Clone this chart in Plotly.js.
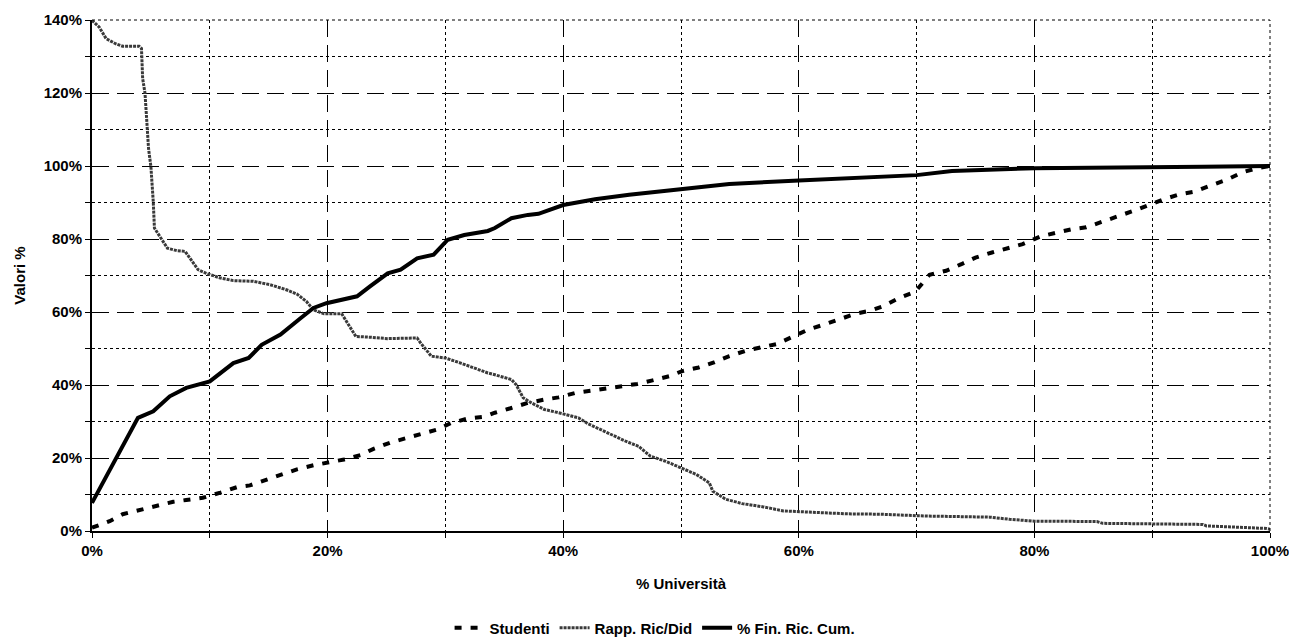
<!DOCTYPE html>
<html>
<head>
<meta charset="utf-8">
<script src="https://cdn.plot.ly/plotly-3.0.1.min.js"></script>
<style>html,body{margin:0;padding:0;background:#fff;}#chart{width:1289px;height:640px;}</style>
</head>
<body>
<div id="chart"></div>
<script>
// % Università (x) and series values (%)
const finX = [0,3.9,5.2,6.6,8.0,10.0,12.0,13.3,14.4,16.0,17.7,18.8,19.9,22.5,23.6,25.1,26.2,27.6,29.0,30.2,31.6,33.6,34.2,35.6,37.0,37.9,40.0,42.7,45.6,50.0,54.1,60.0,66.9,70.0,73.0,77.3,80.0,94.3,100];
const finY = [7.7,31.0,32.8,36.9,39.2,41.0,46.0,47.4,51.0,53.8,58.3,61.1,62.4,64.3,67.0,70.6,71.6,74.7,75.7,79.8,81.1,82.2,83.0,85.7,86.6,86.9,89.3,90.9,92.1,93.7,95.1,96.0,97.1,97.5,98.6,99.2,99.4,99.8,100];

const stuX = [0,1.5,2.6,4.0,5.5,6.9,8.0,9.4,10.9,12.3,13.4,14.5,16.0,17.4,18.8,19.9,21.4,22.8,23.9,25.3,26.5,27.9,29.3,30.5,31.9,33.3,34.2,35.6,37.0,38.4,39.6,41.0,42.1,43.6,45.0,46.3,47.5,49.0,50.1,51.5,52.8,54.1,55.5,56.8,58.1,59.4,60.8,62.1,63.4,64.8,66.1,67.1,68.5,69.9,71.1,72.5,73.8,75.0,76.4,77.9,79.0,80.5,81.7,83.2,84.4,85.7,87.1,88.4,89.7,91.0,92.4,93.6,94.9,96.3,97.6,98.9,100];
const stuY = [0.9,2.7,4.6,5.7,6.8,8.0,8.5,9.1,10.5,12.0,12.5,13.7,15.2,16.9,18.0,18.7,19.6,20.8,22.5,24.2,25.3,26.4,27.8,29.6,30.8,31.3,32.4,33.7,35.1,36.0,36.6,37.8,38.3,39.0,39.8,40.3,41.2,42.4,43.8,44.8,46.2,47.9,49.4,50.4,51.2,53.1,55.2,56.5,57.9,59.5,60.4,61.5,63.8,65.6,70.2,71.3,73.1,74.9,76.3,77.5,78.6,80.7,81.6,82.7,83.2,84.6,86.1,87.7,89.3,90.9,92.3,93.0,94.6,96.2,98.2,99.4,100];

const rapX = [0,0.6,1.2,2.0,2.6,4.0,4.2,4.3,4.5,4.6,4.7,4.8,5.0,5.1,5.2,5.3,5.7,6.4,7.2,7.9,8.3,9.0,9.7,10.9,12.0,13.7,15.1,16.5,17.4,18.2,18.8,19.7,21.2,21.8,22.4,23.6,25.1,27.6,27.9,28.8,30.0,31.3,32.4,33.6,34.2,35.6,36.0,36.6,37.3,38.4,40.0,41.3,42.1,43.6,45.3,46.4,47.4,48.7,50.0,51.3,52.4,52.7,53.8,55.2,57.0,58.7,60.1,62.6,64.1,66.9,70.8,76.2,77.9,80.0,85.3,85.8,94.3,94.6,97.2,99.7,100];
const rapY = [139.9,138.1,134.9,133.5,132.8,132.8,132.2,124.0,119.9,114.9,110.3,104.8,99.8,95.7,90.2,83.0,81.1,77.5,76.8,76.6,74.8,71.6,70.6,69.3,68.6,68.4,67.5,66.1,64.9,62.9,60.6,59.5,59.5,56.5,53.3,53.1,52.7,52.9,51.5,47.9,47.4,46.0,44.7,43.3,42.8,41.5,40.1,36.5,35.1,33.3,32.1,31.0,29.4,27.1,24.6,23.2,20.5,19.1,17.3,15.5,13.2,10.9,8.7,7.5,6.6,5.5,5.3,5.0,4.7,4.6,4.1,3.8,3.2,2.7,2.6,2.1,1.8,1.4,1.1,0.7,0.5];

const seriesNames = ['Studenti', 'Rapp. Ric/Did', '% Fin. Ric. Cum.'];

const FONT = 'Liberation Sans, Arial, sans-serif';

const traces = [
  {x: stuX, y: stuY, name: seriesNames[0], mode: 'lines',
   line: {color: '#000', width: 4, dash: '7px,9px'}},
  {x: rapX, y: rapY, name: seriesNames[1], mode: 'lines',
   line: {color: '#3a3a3a', width: 3, dash: '3px,1px'}},
  {x: finX, y: finY, name: seriesNames[2], mode: 'lines',
   line: {color: '#000', width: 4}}
];

const gridCommon = {
  showgrid: true, gridcolor: '#000', gridwidth: 1, griddash: '17px,8px',
  zeroline: false, showline: true, linecolor: '#000', linewidth: 2,
  ticks: 'outside', ticklen: 5, tickwidth: 1, tickcolor: '#000',
  ticksuffix: '%', ticklabeloverflow: 'allow',
  tickfont: {family: FONT, size: 15, color: '#000', weight: 'bold'},
  minor: {dtick: 10, showgrid: true, gridcolor: '#000', gridwidth: 1, griddash: '3px,3px',
          ticks: 'outside', ticklen: 5, tickcolor: '#000', tickwidth: 1}
};

const layout = {
  width: 1289, height: 640,
  margin: {l: 92, r: 19, t: 20, b: 109, autoexpand: false},
  paper_bgcolor: '#fff', plot_bgcolor: '#fff',
  showlegend: true,
  xaxis: Object.assign({}, gridCommon, {
    range: [0, 100], dtick: 20, tick0: 0, automargin: false,
    title: {text: '% Università', font: {family: FONT, size: 15, color: '#000', weight: 'bold'}, standoff: 20}
  }),
  yaxis: Object.assign({}, gridCommon, {
    range: [0, 140], dtick: 20, tick0: 0, automargin: false,
    title: {text: 'Valori %', font: {family: FONT, size: 15, color: '#000', weight: 'bold'}, standoff: 14}
  }),
  legend: {
    orientation: 'h', x: 0.478, xanchor: 'center', y: -0.19, yanchor: 'middle',
    font: {family: FONT, size: 15, color: '#000', weight: 'bold'},
    itemwidth: 30, tracegroupgap: 0, bgcolor: 'rgba(0,0,0,0)'
  },
  shapes: [
    {type: 'line', xref: 'paper', yref: 'paper', x0: 0, x1: 1, y0: 1, y1: 1,
     line: {color: '#000', width: 1, dash: 'dot'}},
    {type: 'line', xref: 'paper', yref: 'paper', x0: 1, x1: 1, y0: 0, y1: 1,
     line: {color: '#000', width: 1, dash: 'dot'}}
  ]
};

Plotly.newPlot('chart', traces, layout, {displayModeBar: false, staticPlot: true});
</script>
</body>
</html>
